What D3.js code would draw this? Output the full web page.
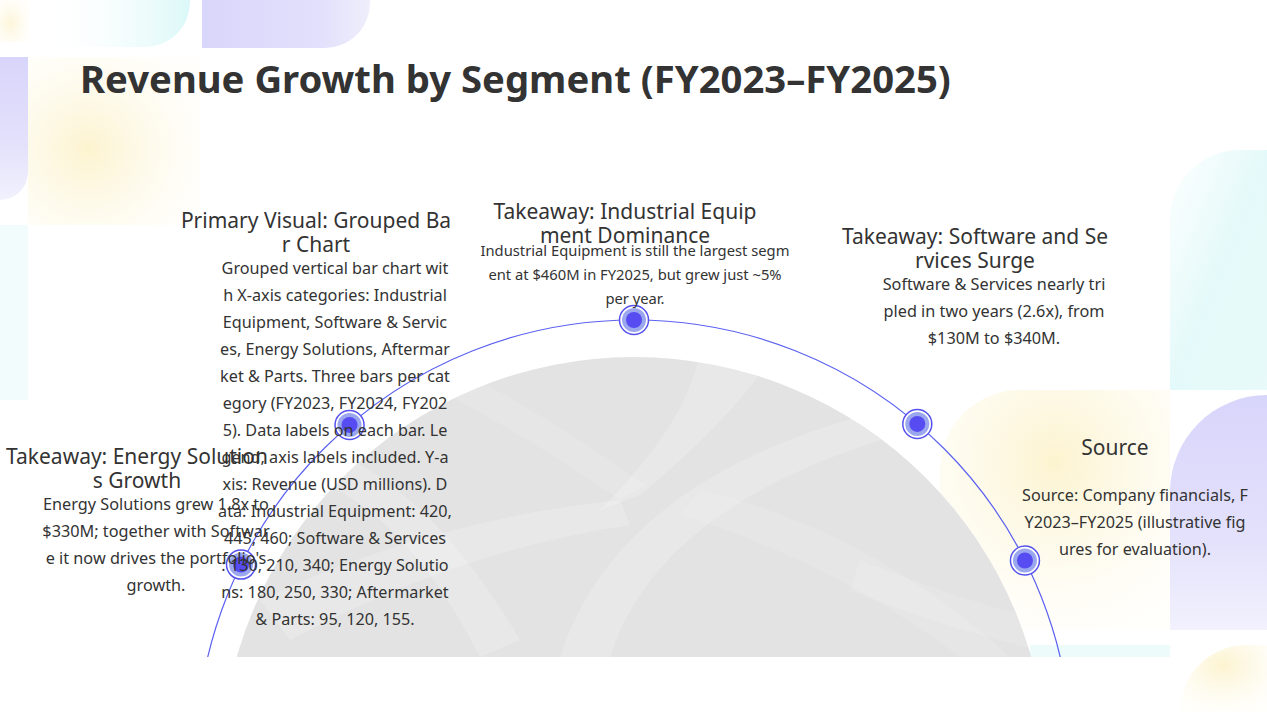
<!DOCTYPE html>
<html>
<head>
    <meta charset="utf-8" />
    <title>Revenue Growth by Segment</title>
    <script src="https://cdn.jsdelivr.net/npm/d3@7"></script>
    <style>
        body { margin: 0; background: #fff; }
        svg { display: block; }
        text { fill: #333; font-family: "Noto Sans", "Open Sans", sans-serif; }
        .title { font-weight: 700; }
    </style>
</head>
<body>
    <svg id="slide" width="1267" height="712"></svg>

    <script>
    var slideTitle = "Revenue Growth by Segment (FY2023\u2013FY2025)";

    // one entry per node on the arc, left to right
    var nodeTitles = [
        ["Takeaway: Energy Solution", "s Growth"],
        ["Primary Visual: Grouped Ba", "r Chart"],
        ["Takeaway: Industrial Equip", "ment Dominance"],
        ["Takeaway: Software and Se", "rvices Surge"],
        ["Source"]
    ];
    var nodeBodies = [
        ["Energy Solutions grew 1.8x to", "$330M; together with Softwar", "e it now drives the portfolio's", "growth."],
        ["Grouped vertical bar chart wit", "h X-axis categories: Industrial", "Equipment, Software & Servic",
         "es, Energy Solutions, Aftermar", "ket & Parts. Three bars per cat", "egory (FY2023, FY2024, FY202",
         "5). Data labels on each bar. Le", "gend, axis labels included. Y-a", "xis: Revenue (USD millions). D",
         "ata: Industrial Equipment: 420,", "445, 460; Software & Services", ": 130, 210, 340; Energy Solutio",
         "ns: 180, 250, 330; Aftermarket", "& Parts: 95, 120, 155."],
        ["Industrial Equipment is still the largest segm", "ent at $460M in FY2025, but grew just ~5%", "per year."],
        ["Software & Services nearly tri", "pled in two years (2.6x), from", "$130M to $340M."],
        ["Source: Company financials, F", "Y2023\u2013FY2025 (illustrative fig", "ures for evaluation)."]
    ];

    // layout: where the nodes sit on the arc (degrees from top) and where their texts go
    var nodeAngles = [-63.8, -40.5, 0, 40.3, 63.2];
    var labelLayout = [
        { x: 137, titleY: 464, titleW: 262, bodyX: 156, bodyY: 510, bodyW: 226, step: 27 },
        { x: 316, titleY: 228, titleW: 275, bodyX: 335, bodyY: 274, bodyW: 227, step: 27 },
        { x: 625, titleY: 219, titleW: 264, bodyX: 635, bodyY: 256, bodyW: 309, step: 24 },
        { x: 975, titleY: 244, titleW: 270, bodyX: 994, bodyY: 290, bodyW: 223, step: 27 },
        { x: 1115, titleY: 455, titleW: 68, bodyX: 1135, bodyY: 501, bodyW: 226, step: 27 }
    ];

    var W = 1267, H = 712;
    var cx = 634, cy = 758, arcR = 438;
    var bowlCy = 770, bowlR = 413;
    var floorY = 657;

    var svg = d3.select("#slide");
    var defs = svg.append("defs");

    function linGrad(id, x1, y1, x2, y2, stops) {
        var g = defs.append("linearGradient").attr("id", id)
            .attr("x1", x1).attr("y1", y1).attr("x2", x2).attr("y2", y2);
        stops.forEach(function (s) {
            g.append("stop").attr("offset", s[0]).attr("stop-color", s[1]).attr("stop-opacity", s[2]);
        });
    }
    function radGrad(id, cxp, cyp, r, stops) {
        var g = defs.append("radialGradient").attr("id", id)
            .attr("cx", cxp).attr("cy", cyp).attr("r", r);
        stops.forEach(function (s) {
            g.append("stop").attr("offset", s[0]).attr("stop-color", s[1]).attr("stop-opacity", s[2]);
        });
    }

    linGrad("lav", "0", "0", "1", "0", [[0, "#d9d6fb", 1], [0.7, "#e2e0fb", 1], [1, "#efeefc", 1]]);
    linGrad("lavV", "0", "0", "0", "1", [[0, "#d8d5fb", 1], [0.6, "#e3e1fb", 1], [1, "#f2f1fd", 1]]);
    linGrad("cyan", "0", "0", "1", "0", [[0, "#ffffff", 0], [1, "#dcf8f8", 1]]);
    linGrad("cyanV", "0", "0", "1", "1", [[0, "#f4fdfd", 0.4], [0.5, "#e4f9f9", 1], [1, "#e8fafa", 1]]);
    radGrad("yel", "0.35", "0.55", "0.7", [[0, "#fcf3cf", 1], [1, "#fffdf5", 0.4]]);
    radGrad("yel2", "0.5", "0.3", "0.75", [[0, "#fcf3cf", 1], [1, "#fffdf3", 0.3]]);

    // soft background shapes
    var bg = svg.append("g");
    function roundedBlock(x, y, w, h, r, corner, fill) {
        // a block with one big rounded corner
        var p = d3.path();
        if (corner === "br") {
            p.moveTo(x, y); p.lineTo(x + w, y); p.lineTo(x + w, y + h - r);
            p.arcTo(x + w, y + h, x + w - r, y + h, r); p.lineTo(x, y + h);
        } else {
            p.moveTo(x + r, y); p.lineTo(x + w, y); p.lineTo(x + w, y + h); p.lineTo(x, y + h);
            p.lineTo(x, y + r); p.arcTo(x, y, x + r, y, r);
        }
        p.closePath();
        bg.append("path").attr("d", p.toString()).attr("fill", fill);
    }
    bg.append("rect").attr("x", 0).attr("y", 0).attr("width", 30).attr("height", 42).attr("fill", "url(#yel)").attr("opacity", 0.8);
    roundedBlock(38, 0, 152, 47, 45, "br", "url(#cyan)");
    roundedBlock(202, 0, 168, 48, 45, "br", "url(#lav)");
    roundedBlock(0, 57, 28, 143, 28, "br", "url(#lavV)");
    bg.append("rect").attr("x", 28).attr("y", 57).attr("width", 172).attr("height", 168).attr("fill", "url(#yel)");
    bg.append("rect").attr("x", 0).attr("y", 225).attr("width", 28).attr("height", 175).attr("fill", "#eefbfb").attr("opacity", 0.7);
    roundedBlock(1170, 150, 97, 240, 70, "tl", "url(#cyanV)");
    roundedBlock(940, 390, 230, 240, 80, "tl", "url(#yel2)");
    roundedBlock(1170, 395, 97, 235, 97, "tl", "url(#lavV)");
    bg.append("rect").attr("x", 1030).attr("y", 645).attr("width", 140).attr("height", 12).attr("fill", "#eefbfb");
    roundedBlock(1180, 645, 87, 67, 67, "tl", "url(#yel2)");

    // the grey bowl and the arc, both cut off at the floor line
    defs.append("clipPath").attr("id", "floor")
        .append("rect").attr("x", 0).attr("y", 0).attr("width", W).attr("height", floorY);
    defs.append("clipPath").attr("id", "bowlClip")
        .append("circle").attr("cx", cx).attr("cy", bowlCy).attr("r", bowlR);

    var stage = svg.append("g").attr("clip-path", "url(#floor)");
    stage.append("circle").attr("cx", cx).attr("cy", bowlCy).attr("r", bowlR).attr("fill", "#e3e3e3");

    // faint curved ribbons inside the bowl
    var ribbons = [
        "M560,657 Q620,470 905,405 L915,430 Q660,500 610,657 Z",
        "M400,370 Q520,430 620,500 L645,485 Q540,410 430,355 Z",
        "M700,350 Q690,420 600,510 L640,495 Q730,420 770,360 Z",
        "M680,515 Q830,560 960,657 L1010,657 Q870,530 700,490 Z",
        "M260,600 Q430,520 620,500 L630,525 Q460,550 290,640 Z",
        "M860,560 Q960,600 1040,620 L1040,650 Q950,630 850,590 Z",
        "M300,440 Q420,470 520,640 L480,657 Q400,500 290,470 Z"
    ];
    stage.append("g").attr("clip-path", "url(#bowlClip)")
        .selectAll("path").data(ribbons).enter().append("path")
        .attr("d", function (d) { return d; })
        .attr("fill", "#ffffff")
        .attr("fill-opacity", function (d, i) { return i % 2 ? 0.12 : 0.2; });

    stage.append("circle").attr("cx", cx).attr("cy", cy).attr("r", arcR)
        .attr("fill", "none").attr("stroke", "#5b61f0").attr("stroke-width", 1.2);

    // nodes
    var pos = nodeAngles.map(function (a) {
        var p = d3.pointRadial(a * Math.PI / 180, arcR);
        return [cx + p[0], cy + p[1]];
    });
    var node = svg.append("g").selectAll("g").data(pos).enter().append("g")
        .attr("transform", function (d) { return "translate(" + d[0] + "," + d[1] + ")"; });
    node.append("circle").attr("r", 14.5).attr("fill", "#fff").attr("stroke", "#5552ee").attr("stroke-width", 1.5);
    node.append("circle").attr("r", 12).attr("fill", "#9aa6ee");
    node.append("circle").attr("r", 8).attr("fill", "#574cf2");

    // slide title, fitted to the width it has on the slide
    var title = svg.append("text").attr("class", "title").attr("x", 80).attr("y", 93)
        .style("font-size", "36px").text(slideTitle);
    var tw = title.node().getComputedTextLength();
    title.style("font-size", (36 * 871 / tw) + "px");

    // labels: each block's font size is fitted to its first line's width
    var labels = svg.append("g");
    function fitSize(str, base, width) {
        var t = labels.append("text").style("font-size", base + "px").text(str);
        var s = base * width / t.node().getComputedTextLength();
        t.remove();
        return s;
    }

    nodeTitles.forEach(function (lines, i) {
        var L = labelLayout[i];
        var size = Math.min(21, fitSize(lines[0], 20, L.titleW));
        labels.append("g").selectAll("text").data(lines).enter().append("text")
            .attr("x", L.x).attr("y", function (d, j) { return L.titleY + j * 24; })
            .attr("text-anchor", "middle")
            .style("font-size", size + "px")
            .text(function (d) { return d; });
    });
    nodeBodies.forEach(function (lines, i) {
        var L = labelLayout[i];
        var size = fitSize(lines[0], 15, L.bodyW);
        labels.append("g").selectAll("text").data(lines).enter().append("text")
            .attr("x", L.bodyX).attr("y", function (d, j) { return L.bodyY + j * L.step; })
            .attr("text-anchor", "middle")
            .style("font-size", size + "px")
            .text(function (d) { return d; });
    });
    </script>
</body>
</html>
